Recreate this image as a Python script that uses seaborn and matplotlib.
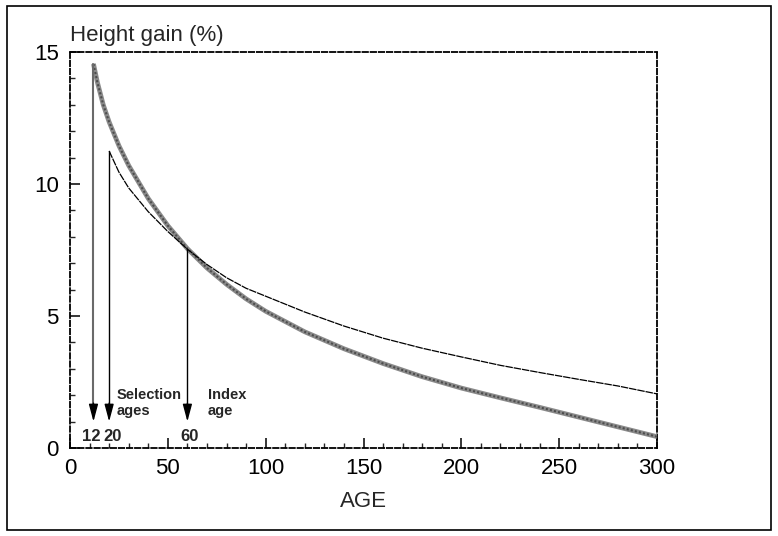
import numpy as np
import pandas as pd
import matplotlib
matplotlib.use("Agg")
import matplotlib.pyplot as plt
from matplotlib.patches import Rectangle
from matplotlib.ticker import MultipleLocator
import seaborn as sns

# ---- data ----
age_early = [12, 14, 17, 20, 25, 30, 40, 50, 60, 70, 80, 90, 100, 120, 140, 160,
             180, 200, 220, 240, 260, 280, 300]
gain_early = [14.55, 13.85, 13.0, 12.35, 11.45, 10.7, 9.45, 8.42, 7.55, 6.82,
              6.2, 5.65, 5.18, 4.4, 3.76, 3.2, 2.7, 2.27, 1.9, 1.54, 1.17,
              0.8, 0.43]

age_late = [20, 25, 30, 40, 50, 60, 70, 80, 90, 100, 120, 140, 160, 180, 200,
            220, 240, 260, 280, 300]
gain_late = [11.25, 10.45, 9.85, 8.95, 8.2, 7.53, 6.95, 6.45, 6.05, 5.75, 5.15,
             4.62, 4.16, 3.78, 3.45, 3.13, 2.86, 2.6, 2.35, 2.05]

arrow_ages = [12, 20, 60]
arrow_tops = [14.55, 11.25, 7.55]
arrow_labels = ["12", "20", "60"]
x_ticks = [0, 50, 100, 150, 200, 250, 300]
y_ticks = [0, 5, 10, 15]

sns.set_style("white")
plt.rcParams["font.family"] = ["Liberation Sans", "DejaVu Sans"]

fig = plt.figure(figsize=(7.78, 5.36), dpi=100)
ax = fig.add_axes([70 / 778, 1 - 448 / 536, 587 / 778, 396 / 536])

df_e = pd.DataFrame({"age": age_early, "gain": gain_early})
df_l = pd.DataFrame({"age": age_late, "gain": gain_late})

# thick hatched grey curve
sns.lineplot(data=df_e, x="age", y="gain", ax=ax, color="#8a8a8a", lw=3.4,
             solid_capstyle="butt", zorder=3)
sns.lineplot(data=df_e, x="age", y="gain", ax=ax, color="#4d4d4d", lw=1.5,
             zorder=4)
ax.lines[-1].set_linestyle((0, (1.0, 1.0)))
# thin curve
sns.lineplot(data=df_l, x="age", y="gain", ax=ax, color="black", lw=0.9,
             zorder=5)
ax.lines[-1].set_linestyle((0, (6, 0.7)))

# arrows
arrow_colors = ["#6a6a6a", "black", "black"]
arrow_lws = [1.5, 1.0, 1.0]
for xa, top, c, lw in zip(arrow_ages, arrow_tops, arrow_colors, arrow_lws):
    ax.plot([xa, xa], [top, 1.6], color=c, lw=lw, zorder=6)
    ax.annotate("", xy=(xa, 1.0), xytext=(xa, 1.7),
                arrowprops=dict(arrowstyle="-|>,head_length=0.75,head_width=0.2",
                                color="black", lw=1.0, shrinkA=0, shrinkB=0,
                                mutation_scale=14),
                zorder=6)
label_x = [10.8, 22.0, 61.0]
for xl, lab in zip(label_x, arrow_labels):
    ax.text(xl, 0.45, lab, ha="center", va="center", fontsize=12,
            fontweight="bold")
ax.text(23.8, 1.7, "Selection\nages", ha="left", va="center", fontsize=10.5,
        fontweight="bold", linespacing=1.2)
ax.text(70.3, 1.7, "Index\nage", ha="left", va="center", fontsize=10.5,
        fontweight="bold", linespacing=1.2)

ax.set_xlim(0, 300)
ax.set_ylim(0, 15)
ax.set_xticks(x_ticks)
ax.set_yticks(y_ticks)
ax.xaxis.set_minor_locator(MultipleLocator(10))
ax.yaxis.set_minor_locator(MultipleLocator(1))
ax.tick_params(axis="both", which="major", direction="in", length=7,
               width=1.1, labelsize=16, colors="black",
               bottom=True, left=True, top=False, right=False)
ax.tick_params(axis="both", which="minor", direction="in", length=3.5,
               width=1.0, bottom=True, left=True, top=False, right=False)
ax.tick_params(axis="x", which="major", pad=7)
ax.tick_params(axis="y", which="major", pad=8)

for s in ax.spines.values():
    s.set_visible(True)
    s.set_color("black")
    s.set_linewidth(1.3)
    s.set_linestyle((0, (3, 1.5)))

ax.set_xlabel("AGE", fontsize=16, labelpad=9)
ax.set_ylabel("")
ax.text(0, 1 + 11 / 396, "Height gain (%)", transform=ax.transAxes,
        ha="left", va="baseline", fontsize=16)

fig.patches.append(Rectangle((7 / 778, 1 - 530 / 536), 764 / 778, 524 / 536,
                             transform=fig.transFigure, fill=False,
                             edgecolor="black", lw=1.2))

fig.savefig("out.png", dpi=100)
